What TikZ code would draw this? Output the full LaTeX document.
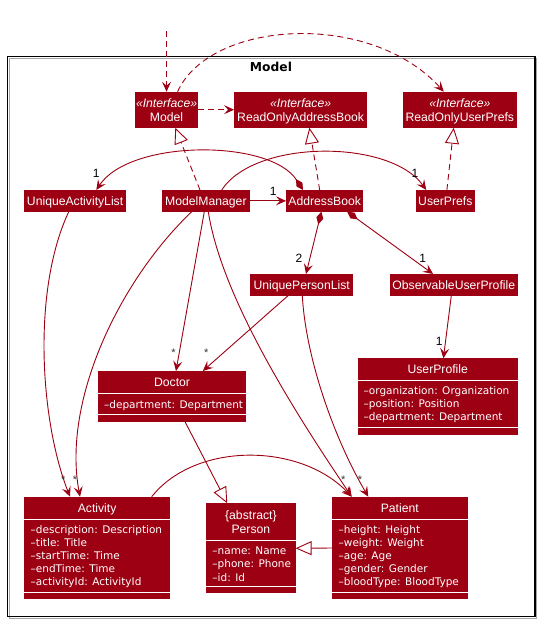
\documentclass[tikz,border=0pt]{standalone}
\usepackage{fontspec}
\setmainfont{Liberation Sans}
\newfontfamily\hdrfont{Liberation Sans}
\newfontfamily\attrfont{DejaVu Sans}
\usetikzlibrary{arrows.meta}
\definecolor{mred}{HTML}{9D0012}
\begin{document}
\begin{tikzpicture}[x=1pt,y=-1pt,
  box/.style={fill=mred, draw=none, inner sep=0pt, outer sep=0pt, anchor=north west, text=white,
    font=\hdrfont\fontsize{12.2}{14}\selectfont, text height=8.7pt, text depth=0pt},
  ttl/.style={font=\hdrfont\fontsize{12.2}{14}\selectfont, text=white, inner sep=0pt, anchor=base},
  iface/.style={ttl, font=\hdrfont\itshape\fontsize{12.2}{14}\selectfont},
  attr/.style={font=\attrfont\fontsize{10.5}{13}\selectfont, text=white, inner sep=0pt, anchor=base west},
  mult/.style={font=\hdrfont\fontsize{12}{14}\selectfont, text=black, inner sep=0pt},
  star/.style={font=\hdrfont\fontsize{11}{13}\selectfont, text=black!80, inner sep=0pt},
  ln/.style={draw=mred, line width=0.9pt},
  assoc/.style={ln, -{Stealth[length=10pt,width=9pt,inset=4pt]}},
  dep/.style={assoc, dash pattern=on 6pt off 4pt},
  real/.style={ln, dash pattern=on 6pt off 4pt, -{Triangle[open,length=16pt,width=14pt,fill=white]}},
  gen/.style={ln, -{Triangle[open,length=16pt,width=14pt,fill=white]}},
  comp/.style={ln, {Diamond[length=13pt,width=7pt]}-{Stealth[length=10pt,width=9pt,inset=4pt]}},
  sep/.style={draw=white, line width=0.9pt}
]
\useasboundingbox (0,0) rectangle (539,622);
\fill[white] (0,0) rectangle (539,622);

% frame
\draw[black!35, line width=1.2pt] (9.1,58.2) rectangle (536.4,618.2);
\draw[black, line width=1.2pt] (7.6,56.7) rectangle (534.9,616.7);
\node[font=\attrfont\bfseries\fontsize{12.3}{14}\selectfont, inner sep=0pt] (title) at (271,67) {Model};

% interface boxes
\node[box, minimum width=62.9pt, minimum height=36pt] (model) at (135.1,91.7) {};
\node[iface] (model-s) at (166.55,107.7) {«Interface»};
\node[ttl] (model-n) at (166.55,121) {Model};
\node[box, minimum width=133pt, minimum height=36pt] (roab) at (234.1,91.7) {};
\node[iface] (roab-s) at (300.6,107.7) {«Interface»};
\node[ttl] (roab-n) at (300.6,121) {ReadOnlyAddressBook};
\node[box, minimum width=113.8pt, minimum height=36pt] (roup) at (402.9,91.7) {};
\node[iface] (roup-s) at (459.8,107.7) {«Interface»};
\node[ttl] (roup-n) at (459.8,121) {ReadOnlyUserPrefs};

% simple boxes
\node[box, minimum width=102.2pt, minimum height=21.7pt] (ual) at (24,190) {UniqueActivityList};
\node[box, minimum width=88pt, minimum height=21.7pt] (mm) at (161.9,190) {ModelManager};
\node[box, minimum width=77.3pt, minimum height=21.7pt] (ab) at (286,190) {AddressBook};
\node[box, minimum width=58.7pt, minimum height=21.7pt] (up) at (416,190) {UserPrefs};
\node[box, minimum width=102.7pt, minimum height=21.7pt] (upl) at (250.3,274) {UniquePersonList};
\node[box, minimum width=128.5pt, minimum height=21.7pt] (oup) at (389.5,274) {ObservableUserProfile};

% UserProfile
\node[box, minimum width=160.5pt, minimum height=76.7pt] (uprof) at (357.5,358.3) {};
\node[ttl] (uprof-t) at (437.75,373.4) {UserProfile};
\draw[sep] (357.5,380) -- (518,380);
\draw[sep] (357.5,427.3) -- (518,427.3);
\node[attr] (uprof-a1) at (363.5,394.8) {–organization: Organization};
\node[attr] (uprof-a2) at (363.5,407.8) {–position: Position};
\node[attr] (uprof-a3) at (363.5,420.8) {–department: Department};

% Doctor
\node[box, minimum width=148.1pt, minimum height=50.7pt] (doc) at (98,371) {};
\node[ttl] (doc-t) at (172.05,386.1) {Doctor};
\draw[sep] (98,393.3) -- (246.1,393.3);
\draw[sep] (98,414.3) -- (246.1,414.3);
\node[attr] (doc-a1) at (104,408.1) {–department: Department};

% Activity
\node[box, minimum width=146.2pt, minimum height=102.6pt] (act) at (24,496.7) {};
\node[ttl] (act-t) at (97.1,512.1) {Activity};
\draw[sep] (24,519.3) -- (170.2,519.3);
\draw[sep] (24,592.3) -- (170.2,592.3);
\node[attr] (act-a1) at (30.5,533.8) {–description: Description};
\node[attr] (act-a2) at (30.5,546.8) {–title: Title};
\node[attr] (act-a3) at (30.5,559.8) {–startTime: Time};
\node[attr] (act-a4) at (30.5,572.8) {–endTime: Time};
\node[attr] (act-a5) at (30.5,585.8) {–activityId: ActivityId};

% Person
\node[box, minimum width=89.35pt, minimum height=90pt] (per) at (206.25,503.3) {};
\node[ttl] (per-s) at (250.9,519.4) {\{abstract\}};
\node[ttl] (per-t) at (250.9,533.4) {Person};
\draw[sep] (206.25,540) -- (295.6,540);
\draw[sep] (206.25,586.7) -- (295.6,586.7);
\node[attr] (per-a1) at (212.25,554.5) {–name: Name};
\node[attr] (per-a2) at (212.25,567.8) {–phone: Phone};
\node[attr] (per-a3) at (212.25,581.1) {–id: Id};

% Patient
\node[box, minimum width=135.5pt, minimum height=102.6pt] (pat) at (332,496.7) {};
\node[ttl] (pat-t) at (399.75,512.1) {Patient};
\draw[sep] (332,519.3) -- (467.5,519.3);
\draw[sep] (332,592.3) -- (467.5,592.3);
\node[attr] (pat-a1) at (338.5,533.8) {–height: Height};
\node[attr] (pat-a2) at (338.5,546.8) {–weight: Weight};
\node[attr] (pat-a3) at (338.5,559.8) {–age: Age};
\node[attr] (pat-a4) at (338.5,572.8) {–gender: Gender};
\node[attr] (pat-a5) at (338.5,585.8) {–bloodType: BloodType};

% connectors
\coordinate (ext) at (166.55,31);
\draw[dep] (ext) -- (model.north);
\draw[dep] ([xshift=11pt]model.north) .. controls (210,20) and (370,10) .. ([xshift=-16pt]roup.north);
\draw[dep] (model.east) -- (roab.west);
\draw[real] ([xshift=38.1pt]mm.north west) -- ([xshift=40.2pt]model.south west);
\draw[real] ([xshift=33.7pt]ab.north west) -- ([xshift=75.3pt]roab.south west);
\draw[real] ([xshift=30.9pt]up.north west) -- ([xshift=50.85pt]roup.south west);
\draw[assoc] (mm.east) -- (ab.west);
\draw[comp] ([xshift=17pt]ab.north west) .. controls (270,139) and (130,139) .. ([xshift=72.3pt]ual.north west);
\draw[assoc] ([xshift=59.8pt]mm.north west) .. controls (255,139) and (390,139) .. ([xshift=10.25pt]up.north west);
\draw[comp] ([xshift=35.4pt]ab.south west) -- ([xshift=55.7pt]upl.north west);
\draw[comp] ([xshift=61.2pt]ab.south west) -- ([xshift=43.6pt]oup.north west);
\draw[assoc] ([xshift=61.8pt]oup.south west) -- ([xshift=85.9pt]uprof.north west);
\draw[assoc] ([xshift=42.4pt]mm.south west) -- ([xshift=78pt]doc.north west);
\draw[assoc] ([xshift=37.7pt]upl.south west) -- ([xshift=104.8pt]doc.north west);
\draw[assoc] ([xshift=29.8pt]mm.south west) .. controls (120,280) and (62,400) .. ([xshift=56pt]act.north west);
\draw[assoc] ([xshift=44.75pt]ual.south west) .. controls (32,290) and (40,420) .. ([xshift=46pt]act.north west);
\draw[assoc] ([xshift=127.7pt]act.north west) .. controls (195,442) and (300,442) .. ([xshift=19.7pt]pat.north west);
\draw[assoc] ([xshift=46.4pt]mm.south west) .. controls (222,300) and (300,420) .. ([xshift=19.7pt]pat.north west);
\draw[assoc] ([xshift=52pt]upl.south west) .. controls (306,360) and (335,440) .. ([xshift=36.3pt]pat.north west);
\draw[gen] ([xshift=87pt]doc.south west) -- ([xshift=21pt]per.north west);
\draw[gen] (pat.west) -- (per.east);

% multiplicities
\node[mult] (m-mmab) at (273.3,191.7) {1};
\node[mult] (m-ual) at (96.25,173.3) {1};
\node[mult] (m-up) at (414.9,173.3) {1};
\node[mult] (m-upl) at (299,258.3) {2};
\node[mult] (m-oup) at (422.8,258.3) {1};
\node[mult] (m-uprof) at (439.3,341.7) {1};
\node[star] (s-doc1) at (173.6,353) {*};
\node[star] (s-doc2) at (206.25,353) {*};
\node[star] (s-act1) at (63.3,479.5) {*};
\node[star] (s-act2) at (75,479.5) {*};
\node[star] (s-pat1) at (343.3,479.5) {*};
\node[star] (s-pat2) at (360,479.5) {*};
\end{tikzpicture}
\end{document}
